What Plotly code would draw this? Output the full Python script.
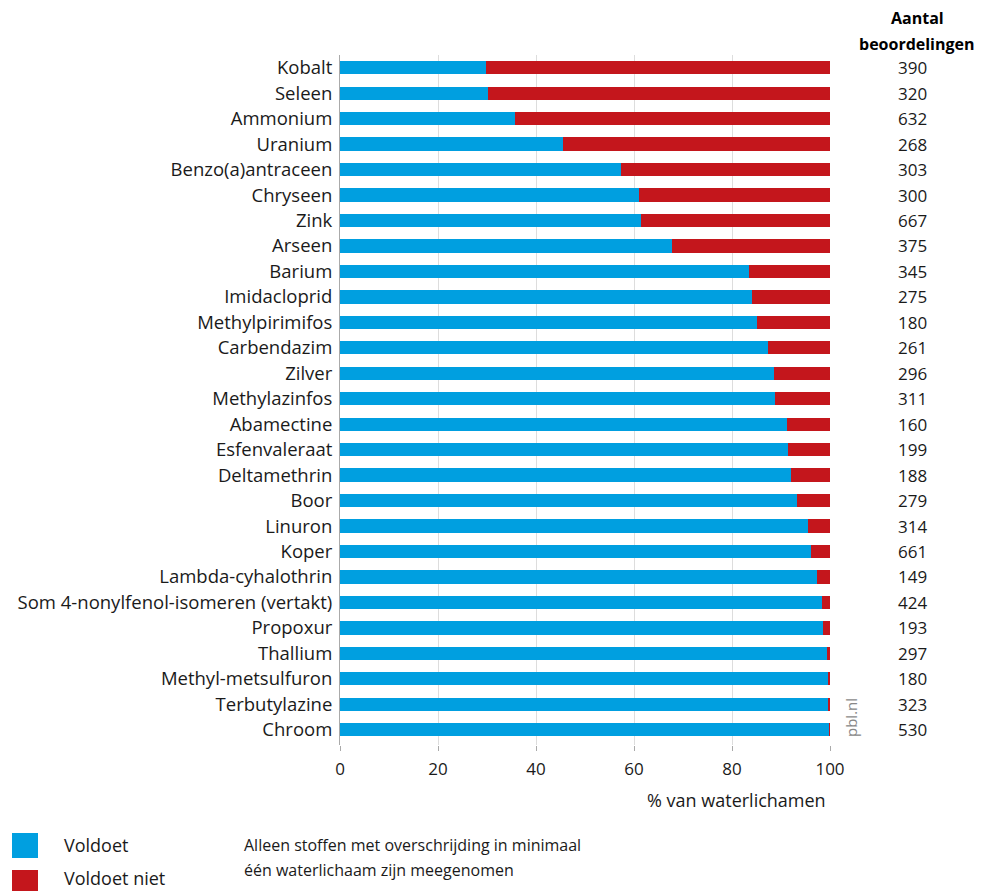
import plotly.graph_objects as go

categories = ["Kobalt", "Seleen", "Ammonium", "Uranium", "Benzo(a)antraceen", "Chryseen", "Zink",
              "Arseen", "Barium", "Imidacloprid", "Methylpirimifos", "Carbendazim", "Zilver",
              "Methylazinfos", "Abamectine", "Esfenvaleraat", "Deltamethrin", "Boor", "Linuron",
              "Koper", "Lambda-cyhalothrin", "Som 4-nonylfenol-isomeren (vertakt)", "Propoxur",
              "Thallium", "Methyl-metsulfuron", "Terbutylazine", "Chroom"]
voldoet = [29.7, 30.2, 35.7, 45.5, 57.3, 61.0, 61.4, 67.8, 83.5, 84.0, 85.0, 87.3, 88.5,
           88.8, 91.2, 91.4, 92.0, 93.2, 95.6, 96.1, 97.3, 98.4, 98.5, 99.4, 99.5, 99.7, 99.9]
voldoet_niet = [round(100 - v, 1) for v in voldoet]
aantal = [390, 320, 632, 268, 303, 300, 667, 375, 345, 275, 180, 261, 296, 311, 160, 199,
          188, 279, 314, 661, 149, 424, 193, 297, 180, 323, 530]
x_ticks = [0, 20, 40, 60, 80, 100]

BLUE = "#009FE0"
RED = "#C4161C"
FONT = "Open Sans"
TXT = "#1a1a1a"

# page offset (body margin) compensation
OFF = 8
W, H = 982 - OFF, 891 - OFF
# plot area in page pixels: x 340..830, y 55..745
L = 340 - OFF
R = W - (830 - OFF)
T = 55 - OFF
B = H - (745 - OFF)
pw, ph = W - L - R, H - T - B


def pp(px, py):
    """page pixel -> paper coords"""
    fx, fy = px - OFF, py - OFF
    return (fx - L) / pw, (H - B - fy) / ph


fig = go.Figure()
fig.add_trace(go.Bar(y=categories, x=voldoet, orientation="h", marker=dict(color=BLUE, line=dict(width=0)),
                     name="Voldoet", showlegend=False))
fig.add_trace(go.Bar(y=categories, x=voldoet_niet, orientation="h", marker=dict(color=RED, line=dict(width=0)),
                     name="Voldoet niet", showlegend=False))

annotations = []
numx, _ = pp(912, 0)
for c, n in zip(categories, aantal):
    annotations.append(dict(x=numx, xref="paper", y=c, yref="y", text=str(n), showarrow=False,
                            xanchor="center", yanchor="middle", font=dict(family=FONT, size=17, color=TXT)))
hx, hy1 = pp(917, 18)
_, hy2 = pp(917, 44)
annotations.append(dict(x=hx, xref="paper", y=hy1, yref="paper", text="<b>Aantal</b>",
                        showarrow=False, xanchor="center", yanchor="middle",
                        font=dict(family=FONT, size=16, color="#000")))
annotations.append(dict(x=hx, xref="paper", y=hy2, yref="paper", text="<b>beoordelingen</b>",
                        showarrow=False, xanchor="center", yanchor="middle",
                        font=dict(family=FONT, size=16, color="#000")))
tx, ty = pp(828, 800)
annotations.append(dict(x=tx, xref="paper", y=ty, yref="paper", text="% van waterlichamen",
                        showarrow=False, xanchor="right", yanchor="middle",
                        font=dict(family=FONT, size=18, color=TXT)))
px_, py_ = pp(851, 718)
annotations.append(dict(x=px_, xref="paper", y=py_, yref="paper", text="pbl.nl", textangle=-90,
                        showarrow=False, xanchor="center", yanchor="middle",
                        font=dict(family=FONT, size=15, color="#888")))

legend_items = [("Voldoet", BLUE, 845, 833, 858), ("Voldoet niet", RED, 878, 870, 895)]
shapes = []
for label, col, cy, ytop, ybot in legend_items:
    x0, y0 = pp(12, ytop)
    x1, y1 = pp(38, ybot)
    shapes.append(dict(type="rect", xref="paper", yref="paper", x0=x0, x1=x1, y0=y1, y1=y0,
                       fillcolor=col, line=dict(width=0)))
    lx, ly = pp(62, cy)
    annotations.append(dict(x=lx, xref="paper", y=ly, yref="paper", text=label, showarrow=False,
                            xanchor="left", yanchor="middle", font=dict(family=FONT, size=18, color=TXT)))
nx, ny1 = pp(242, 845)
_, ny2 = pp(242, 870)
annotations.append(dict(x=nx, xref="paper", y=ny1, yref="paper",
                        text="Alleen stoffen met overschrijding in minimaal",
                        showarrow=False, xanchor="left", yanchor="middle",
                        font=dict(family=FONT, size=16, color=TXT)))
annotations.append(dict(x=nx, xref="paper", y=ny2, yref="paper",
                        text="één waterlichaam zijn meegenomen",
                        showarrow=False, xanchor="left", yanchor="middle",
                        font=dict(family=FONT, size=16, color=TXT)))

fig.update_layout(
    width=W, height=H,
    margin=dict(l=L, r=R, t=T, b=B, pad=0, autoexpand=False),
    barmode="stack", bargap=0.48,
    plot_bgcolor="white", paper_bgcolor="white",
    annotations=annotations, shapes=shapes,
    showlegend=False,
    xaxis=dict(range=[0, 100], tickvals=x_ticks, ticktext=[str(t) for t in x_ticks],
               showgrid=True, gridcolor="#dddddd", gridwidth=1, zeroline=False, automargin=False,
               ticks="outside", ticklen=5, tickcolor="#aaaaaa", ticklabelstandoff=4,
               tickfont=dict(family=FONT, size=17, color=TXT), showline=False),
    yaxis=dict(categoryorder="array", categoryarray=categories, range=[26.6, -0.5], automargin=False,
               showline=True, linecolor="#aaaaaa", linewidth=1, ticks="", ticklabelstandoff=3,
               tickfont=dict(family=FONT, size=18.5, color=TXT), showgrid=False),
    font=dict(family=FONT),
)
fig.write_html("out.html")
